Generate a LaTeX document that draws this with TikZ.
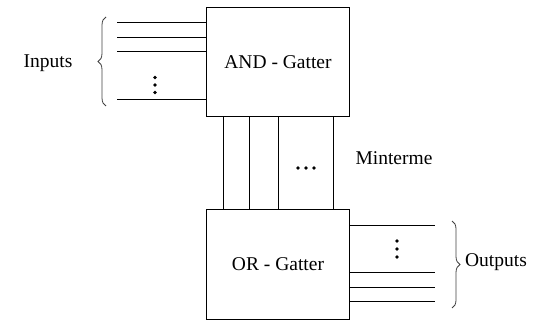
\documentclass[tikz,border=0pt]{standalone}
\usepackage{fontspec}
\setmainfont{Liberation Serif}
\usetikzlibrary{decorations.pathreplacing}
\begin{document}
\begin{tikzpicture}[x=1pt,y=-1pt,
  gate/.style={draw,line width=1pt,minimum width=143pt,minimum height=109pt,inner sep=0pt,font=\fontsize{19.5}{23}\selectfont},
  lbl/.style={font=\fontsize{19.5}{23}\selectfont,inner sep=0pt},
  wire/.style={line width=1pt},
  dot/.style={circle,fill,inner sep=0pt,minimum size=3.8pt},
  brace/.style={decorate,decoration={brace,amplitude=8pt},line width=0.8pt,draw=black!75}]
\useasboundingbox (0,0) rectangle (546,320);
\node[gate] (and) at (278,62.5) {AND - Gatter};
\node[gate] (or) at (278,264.5) {OR - Gatter};
% inputs
\foreach \i/\y in {1/23,2/38,3/52,4/100} {
  \coordinate (in\i) at (117,\y);
  \draw[wire] (in\i) -- (and.west |- in\i);
}
\node[dot] (id1) at (155,77.5) {};
\node[dot] (id2) at (155,85) {};
\node[dot] (id3) at (155,92.5) {};
\coordinate (lb1) at (106,106);
\coordinate (lb2) at (106,17);
\draw[brace] (lb1) -- (lb2);
\node[lbl] (inputs) at (48,63) {Inputs};
% minterme
\foreach \i/\x in {1/223,2/249,3/278,4/333} {
  \coordinate (m\i) at (\x,150);
  \draw[wire] (and.south -| m\i) -- (or.north -| m\i);
}
\node[dot] (md1) at (298,168) {};
\node[dot] (md2) at (306,168) {};
\node[dot] (md3) at (314,168) {};
\node[lbl] (mint) at (394,158) {Minterme};
% outputs
\foreach \i/\y in {1/226,2/273,3/288,4/302} {
  \coordinate (out\i) at (435,\y);
  \draw[wire] (or.east |- out\i) -- (out\i);
}
\node[dot] (od1) at (397,241) {};
\node[dot] (od2) at (397,249) {};
\node[dot] (od3) at (397,257) {};
\coordinate (rb1) at (452,221);
\coordinate (rb2) at (452,308);
\draw[brace] (rb1) -- (rb2);
\node[lbl] (outputs) at (496,262) {Outputs};
\end{tikzpicture}
\end{document}
